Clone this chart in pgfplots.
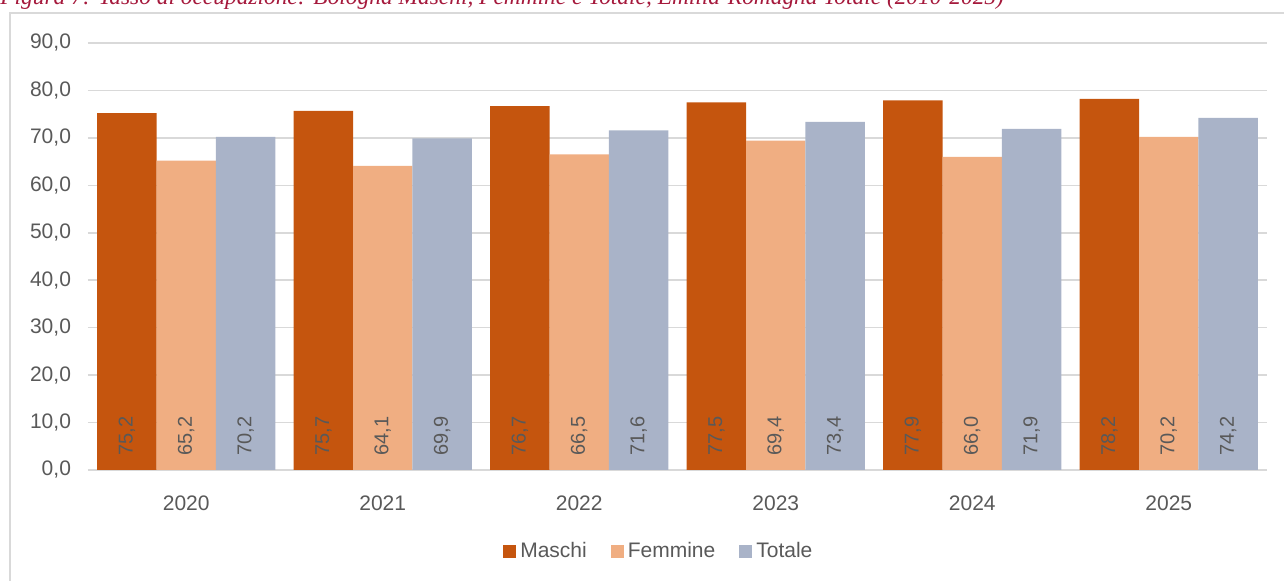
\documentclass[border=0pt]{standalone}
\usepackage{pgfplots}
\pgfplotsset{compat=1.18}
\usepackage{fontspec}
\setmainfont{Liberation Sans}
\newfontfamily\titlefont{Liberation Serif}
\definecolor{cM}{RGB}{197,85,14}
\definecolor{cF}{RGB}{240,174,130}
\definecolor{cT}{RGB}{169,179,200}
\definecolor{txt}{RGB}{89,89,89}
\definecolor{gridc}{RGB}{217,217,217}
\definecolor{titc}{RGB}{165,25,60}
\begin{document}
\begin{tikzpicture}[x=0.5pt,y=0.5pt]
\path[use as bounding box] (0,0) rectangle (1284,581);
\node[anchor=base west, inner sep=0pt, font=\titlefont\itshape\fontsize{11.7pt}{13pt}\selectfont, text=titc] at (0,576) {Figura 7: Tasso di occupazione: Bologna Maschi, Femmine e Totale, Emilia-Romagna Totale (2010-2025)};
\draw[gridc, line width=1pt] (10,-5) -- (10,568) -- (1290,568);
\begin{axis}[
  at={(44pt,55.5pt)}, anchor=south west,
  scale only axis, width=589.5pt, height=213.5pt,
  xmin=-0.5, xmax=5.5, ymin=0, ymax=90,
  ybar=0pt, bar width=0.302,
  axis x line*=bottom, axis y line*=left,
  x axis line style={gridc, line width=0.8pt},
  y axis line style={draw=none},
  xtick={0,1,2,3,4,5}, xticklabels={2020,2021,2022,2023,2024,2025},
  xtick style={draw=none},
  ytick={0,10,...,90},
  ymajorgrids, grid style={gridc, line width=0.8pt},
  ytick style={draw=none},
  tick label style={font=\fontsize{10.5pt}{12pt}\selectfont, text=txt},
  /pgf/number format/assume math mode=true,
  yticklabel={\pgfmathprintnumber[fixed, fixed zerofill, precision=1, use comma]{\tick}},
  yticklabel style={anchor=east, xshift=-5pt},
  xticklabel style={yshift=-5pt},
  legend style={at={(0.485,-0.19)}, anchor=center, draw=none, legend columns=3,
    font=\fontsize{10.5pt}{12pt}\selectfont, text=txt,
    /tikz/every even column/.append style={column sep=10pt}},
  legend image code/.code={\fill[#1] (0pt,-3.2pt) rectangle (6.5pt,3.2pt);},
  every node near coord/.append style={font=\fontsize{10pt}{12pt}\selectfont, text=txt, rotate=90, anchor=west, inner xsep=7pt},
]
\addplot[fill=cM, draw=none, bar shift=-0.302] coordinates {(0,75.2) (1,75.7) (2,76.7) (3,77.5) (4,77.9) (5,78.2)};
\addlegendentry{Maschi}
\addplot[fill=cF, draw=none, bar shift=0] coordinates {(0,65.2) (1,64.1) (2,66.5) (3,69.4) (4,66.0) (5,70.2)};
\addlegendentry{Femmine}
\addplot[fill=cT, draw=none, bar shift=0.302] coordinates {(0,70.2) (1,69.9) (2,71.6) (3,73.4) (4,71.9) (5,74.2)};
\addlegendentry{Totale}
\addplot[draw=none, fill=none, bar shift=-0.302, forget plot, nodes near coords, point meta=explicit symbolic] coordinates {(0,0) [75,2] (1,0) [75,7] (2,0) [76,7] (3,0) [77,5] (4,0) [77,9] (5,0) [78,2]};
\addplot[draw=none, fill=none, bar shift=0, forget plot, nodes near coords, point meta=explicit symbolic] coordinates {(0,0) [65,2] (1,0) [64,1] (2,0) [66,5] (3,0) [69,4] (4,0) [66,0] (5,0) [70,2]};
\addplot[draw=none, fill=none, bar shift=0.302, forget plot, nodes near coords, point meta=explicit symbolic] coordinates {(0,0) [70,2] (1,0) [69,9] (2,0) [71,6] (3,0) [73,4] (4,0) [71,9] (5,0) [74,2]};
\end{axis}
\end{tikzpicture}
\end{document}
